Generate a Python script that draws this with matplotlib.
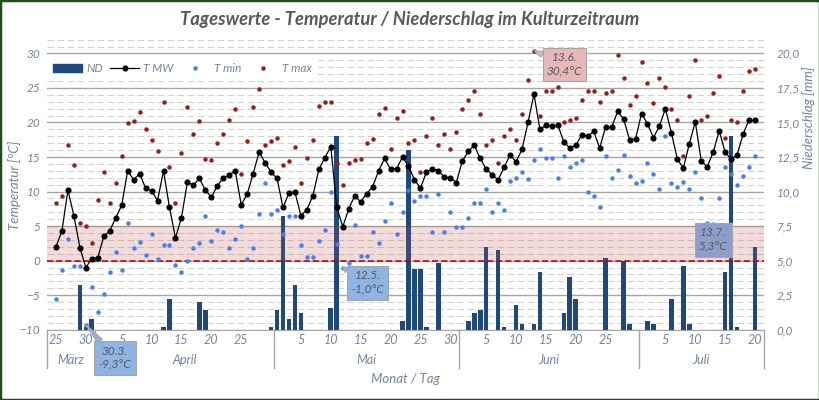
import matplotlib
matplotlib.use("Agg")
import matplotlib.pyplot as plt
import matplotlib.transforms as mtransforms
from matplotlib.lines import Line2D
from matplotlib.patches import Patch, Rectangle
import numpy as np
import pandas as pd

plt.rcParams['font.family'] = ['Lato', 'DejaVu Sans']

# one value per day, 25.3. - 20.7.
days = pd.date_range("2023-03-25", "2023-07-20", freq="D")
month_names = {3: "März", 4: "April", 5: "Mai", 6: "Juni", 7: "Juli"}

t_mw = [2.0, 4.3, 10.2, 6.5, 1.9, -1.0, 0.3,                      # März
        0.4, 3.5, 4.3, 6.2, 8.0, 13.0, 11.7, 12.6, 10.5, 10.1,   # April
        8.7, 13.0, 7.7, 3.3, 6.2, 11.4, 10.9, 11.9, 10.2, 9.2,
        10.8, 12.0, 12.4, 13.0, 8.1, 9.6, 12.6, 15.7, 14.2, 12.8,
        11.9, 7.7, 9.8, 9.9, 6.5, 7.4, 9.4, 13.2, 14.9, 16.5,    # Mai
        7.7, 4.9, 7.5, 9.4, 8.5, 9.7, 10.7, 13.0, 14.8, 13.2,
        13.3, 15.0, 13.7, 11.7, 10.5, 12.8, 13.3, 13.0, 12.1, 12.0, 11.3,
        14.4, 15.8, 16.7, 14.8, 13.3, 12.4, 11.7, 13.5, 15.3, 14.3,  # Juni
        16.1, 20.0, 24.1, 19.0, 19.6, 19.5, 19.6, 17.2, 16.3, 16.7,
        18.2, 18.0, 18.7, 16.3, 19.4, 19.3, 21.6, 20.5, 17.5, 17.6,
        21.3, 19.8, 17.8, 19.5, 22.0, 18.5, 14.7, 13.4, 16.9, 20.1,  # Juli
        14.4, 13.6, 15.7, 18.8, 15.7, 14.7, 15.3, 18.3, 20.4, 20.3]

t_min = [-5.6, -1.3, 3.1, -0.8, -0.8, -9.3, -3.8,
         -7.4, -4.9, -1.6, 1.3, -1.3, 5.4, 1.9, 2.7, 0.8, 3.8,
         0.3, 2.2, 2.2, -0.7, -1.7, -0.1, 1.9, 2.5, 6.5, 2.9,
         4.5, 4.2, 1.8, 3.1, 5.0, 0.2, 1.8, 6.8, 11.3, 6.7,
         7.3, 3.9, 6.5, 6.5, 2.2, 0.5, 0.5, 2.8, 4.5, 10.0,
         2.4, -1.0, -0.3, 5.2, 0.7, 0.7, 4.2, 2.6, 5.8, 8.4,
         3.9, 7.0, 10.2, 8.6, 9.3, 9.3, 4.1, 9.7, 4.2, 7.1, 4.9,
         4.9, 6.1, 8.3, 8.4, 10.3, 7.1, 8.4, 7.3, 11.6, 11.9,
         12.9, 11.8, 14.5, 16.1, 14.8, 14.8, 11.9, 15.2, 13.6, 14.2,
         14.6, 10.0, 9.4, 7.8, 15.2, 11.9, 13.1, 15.3, 12.3, 11.3,
         11.6, 14.2, 12.6, 10.3, 18.1, 11.3, 10.6, 11.4, 10.3, 12.9,
         9.0, 5.4, 5.3, 9.1, 13.6, 12.5, 10.9, 12.2, 13.6, 15.2]

t_max = [8.4, 9.4, 16.8, 13.8, 5.5, 5.0, 2.6,
         8.8, 12.8, 8.3, 11.3, 15.2, 19.9, 20.2, 21.5, 19.1, 17.4,
         15.8, 23.0, 13.6, 8.3, 15.6, 22.3, 18.4, 20.2, 14.7, 14.5,
         17.1, 18.4, 20.3, 22.0, 12.5, 17.3, 22.3, 24.8, 16.7, 17.3,
         17.7, 13.9, 14.4, 16.5, 11.2, 14.8, 17.4, 22.4, 22.9, 22.9,
         14.1, 10.9, 14.2, 14.5, 14.7, 17.1, 17.6, 21.3, 22.1, 16.2,
         20.6, 21.6, 17.1, 17.4, 12.8, 18.1, 20.7, 16.8, 18.4, 16.1, 18.6,
         22.0, 23.2, 24.6, 21.3, 16.8, 17.4, 14.2, 18.1, 19.0, 17.5,
         21.3, 26.2, 30.4, 21.0, 24.5, 24.5, 25.2, 20.0, 20.3, 20.7,
         23.2, 24.6, 24.5, 22.9, 24.2, 24.5, 29.7, 26.4, 22.6, 23.8,
         28.7, 25.7, 22.8, 26.4, 25.1, 22.0, 20.3, 15.2, 23.8, 29.0,
         20.4, 21.0, 24.2, 26.7, 17.7, 20.3, 20.0, 24.5, 27.5, 27.8]

nd = [0, 0, 0, 0, 3.2, 0.2, 0.8,
      0, 0, 0, 0, 0, 0, 0, 0, 0, 0,
      0, 0.2, 2.2, 0, 0, 0, 0, 2.0, 1.4, 0,
      0, 0, 0, 0, 0, 0, 0, 0, 0, 0.2,
      1.4, 8.2, 0.8, 3.2, 1.2, 0, 0, 0, 0, 1.6,
      14.0, 0, 0, 0, 0, 0, 0, 0, 0, 0,
      0, 0.6, 13.0, 4.4, 4.4, 0.2, 0, 4.8, 0, 0, 0,
      0, 0.6, 1.2, 1.4, 6.0, 0, 5.8, 0.2, 0, 1.8,
      0.4, 0, 0.4, 4.2, 0, 0, 0, 1.2, 3.8, 2.2,
      0, 0, 0, 0, 5.2, 0, 0, 5.0, 0.4, 0,
      0, 0.6, 0.4, 0, 0, 2.2, 0, 4.6, 0.4, 0,
      0, 0, 0, 0, 4.2, 14.0, 0.2, 0, 0, 6.0]

# highlighted extremes: (date, series, box colour, text offset in pt)
callouts = [("2023-03-30", "min", "#8db4e2", (21, -24)),
            ("2023-05-12", "min", "#8db4e2", (18, -11)),
            ("2023-06-13", "max", "#e6b9b8", (22, -10)),
            ("2023-07-13", "min", "#8f9dcb", (0, -11.5))]

NAVY = "#1f497d"
BLUE = "#4a7ef0"
DARKRED = "#9c1a1a"
TXT = "#7384a3"
GRID = "#a6a6a6"

x = np.arange(len(days))

fig = plt.figure(figsize=(8.2, 4), dpi=100)
ax = fig.add_axes([47 / 820, 1 - 329.7 / 400, 717 / 820, 290.1 / 400])
ax2 = ax.twinx()

# precipitation (lower layer, right scale)
ax.bar(x, nd, width=0.78, color=NAVY, zorder=2)
ax.set_ylim(0, 21)
ax.set_yticks(np.arange(0, 20.1, 2.5))
ax.set_yticks(np.arange(0, 21.1, 0.5), minor=True)
ax.set_yticklabels([f"{v:.1f}".replace(".", ",") for v in np.arange(0, 20.1, 2.5)])
ax.yaxis.tick_right()
ax.grid(axis="y", which="major", color=GRID, lw=1.0, zorder=0)
ax.grid(axis="y", which="minor", color="#d4d4d4", lw=0.8, ls=(0, (6, 3)), zorder=0)
ax.set_axisbelow(True)
ax.tick_params(axis="y", which="both", length=0, pad=9, labelsize=8.5, labelcolor=TXT)
for lab in ax.get_yticklabels():
    lab.set_style("italic")

# temperature (upper layer, left scale)
ax2.set_ylim(-10, 32)
ax2.set_yticks(np.arange(-10, 31, 5))
ax2.yaxis.tick_left()
ax2.tick_params(axis="y", length=0, pad=5, labelsize=8.5, labelcolor=TXT)
for lab in ax2.get_yticklabels():
    lab.set_style("italic")
ax2.axhspan(0, 5, color="#c0504d", alpha=0.2, lw=0, zorder=1)
ax2.axhline(0, color="#b00000", lw=1.1, ls=(0, (4, 2)), zorder=2)
ax2.plot(x, t_mw, color="black", lw=0.9, marker="o", ms=3.4, zorder=4)
ax2.plot(x, t_min, ls="none", marker="o", ms=2.2, color=BLUE, zorder=4)
ax2.plot(x, t_max, ls="none", marker="o", ms=2.2, color=DARKRED, zorder=4)

for a in (ax, ax2):
    for s in a.spines.values():
        s.set_visible(False)
ax.spines["bottom"].set_visible(True)
ax.spines["bottom"].set_color(GRID)

ax.set_xlim(-1.5, len(days) + 0.5)

# day labels
tick_idx = [i for i, d in enumerate(days)
            if d.day % 5 == 0 and not d.is_month_end]
ax.set_xticks(tick_idx)
ax.set_xticklabels([str(days[i].day) for i in tick_idx], style="italic")
ax.tick_params(axis="x", length=0, pad=3, labelsize=9, labelcolor=TXT)
ax2.tick_params(axis="x", length=0)

# month groups below the day labels
trans = mtransforms.blended_transform_factory(ax.transData, ax.transAxes)
starts = [i for i, d in enumerate(days) if d.day == 1]
edges = [-1.5] + [s - 0.5 for s in starts] + [len(days) + 0.5]
for e in edges:
    ax.plot([e, e], [0, -0.132], transform=trans, color=GRID, lw=1, clip_on=False)
months = [days[0].month] + [days[s].month for s in starts]
for m, a, b in zip(months, edges[:-1], edges[1:]):
    ax.text((a + b) / 2, -0.104, month_names[m], transform=trans, ha="center",
            va="center", fontsize=9, style="italic", color=TXT)
ax.text(0.5, -0.17, "Monat / Tag", transform=ax.transAxes, ha="center",
        va="center", fontsize=9.5, style="italic", color=TXT)

# callouts for the extremes
series = {"min": t_min, "max": t_max}
for day, key, col, off in callouts:
    i = days.get_loc(pd.Timestamp(day))
    v = series[key][i]
    label = f"{days[i].day}.{days[i].month}.\n" + f"{v:.1f}".replace(".", ",") + "°C"
    ax2.annotate(label, xy=(x[i], v), xytext=off, textcoords="offset points",
                 ha="center", va="center", fontsize=8.5, style="italic",
                 color="#595959", linespacing=1.35, annotation_clip=False, zorder=6,
                 bbox=dict(boxstyle="square,pad=0.35", fc=col, ec="#a6a6a6", lw=0.8),
                 arrowprops=dict(arrowstyle="wedge,tail_width=0.5", fc=col,
                                 ec="#a6a6a6", lw=0.8, shrinkA=0, shrinkB=0))

handles = [Patch(color=NAVY),
           Line2D([], [], color="black", lw=0.9, marker="o", ms=3.4),
           Line2D([], [], ls="none", marker="o", ms=2.2, color=BLUE),
           Line2D([], [], ls="none", marker="o", ms=2.2, color=DARKRED)]
leg = ax2.legend(handles, ["ND", "T MW", "T min", "T max"], ncol=4,
                 loc="center left", bbox_to_anchor=(0, 0.899), borderaxespad=0,
                 frameon=True, facecolor="white", edgecolor="none", framealpha=1,
                 fancybox=False, fontsize=8.5, handlelength=2.4, handletextpad=0.4,
                 columnspacing=0.6, borderpad=0.55, labelcolor=TXT)
for t in leg.get_texts():
    t.set_style("italic")

fig.text(0.5, 0.95, "Tageswerte - Temperatur / Niederschlag im Kulturzeitraum",
         ha="center", va="center", fontsize=13.2, weight="bold", style="italic",
         color="#595959")
fig.text(15 / 820, 1 - 185 / 400, "Temperatur [°C]", rotation=90, ha="center",
         va="center", fontsize=9.5, style="italic", color=TXT)
fig.text(809 / 820, 1 - 118 / 400, "Niederschlag [mm]", rotation=90, ha="center",
         va="center", fontsize=9.5, style="italic", color=TXT)

fig.patches.append(Rectangle((0, 0), 1, 1, transform=fig.transFigure, fill=False,
                             ec="#1e4d1e", lw=2.5))

fig.savefig("out.png", dpi=100)
